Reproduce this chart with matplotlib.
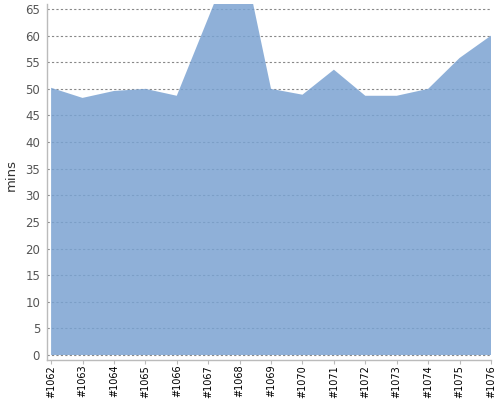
import matplotlib
matplotlib.use('Agg')
import matplotlib.pyplot as plt
import numpy as np

builds = ['#1062', '#1063', '#1064', '#1065', '#1066', '#1067', '#1068', '#1069',
          '#1070', '#1071', '#1072', '#1073', '#1074', '#1075', '#1076']
mins = [50.2, 48.3, 49.6, 50.0, 48.7, 63.3, 78.0, 50.0,
        48.9, 53.6, 48.7, 48.7, 50.0, 55.8, 60.0]
yticks = list(range(0, 70, 5))

fig = plt.figure(figsize=(5, 4), dpi=100)
ax = fig.add_axes([0.094, 0.1, 0.888, 0.89])

x = np.arange(len(builds))
# fill is slightly see-through so the grid shows faintly inside it
ax.fill_between(x, 0, mins, color='#7ba3d2', alpha=0.85, linewidth=0, zorder=2)

ax.set_xlim(-0.13, len(builds) - 1)
ax.set_ylim(-0.94, 65.94)
ax.set_yticks(yticks)
ax.set_xticks(x)
ax.set_xticklabels(builds, rotation=90, fontsize=7.0, color='black')
ax.tick_params(axis='y', length=0, pad=5, labelsize=8.5, labelcolor='#555555')
ax.tick_params(axis='x', length=3, width=0.8, color='#bbbbbb', pad=0.5)

ax.set_axisbelow(True)
ax.grid(axis='y', linestyle=(0, (2, 2)), color='#888888', linewidth=0.8, zorder=1)

for s in ['top', 'right']:
    ax.spines[s].set_visible(False)
for s in ['left', 'bottom']:
    ax.spines[s].set_color('#bbbbbb')
    ax.spines[s].set_linewidth(1.0)

ax.set_ylabel('mins', fontsize=9.5, color='#333333')
ax.yaxis.set_label_coords(-0.066, 0.52)

fig.savefig('out.png', dpi=100)
